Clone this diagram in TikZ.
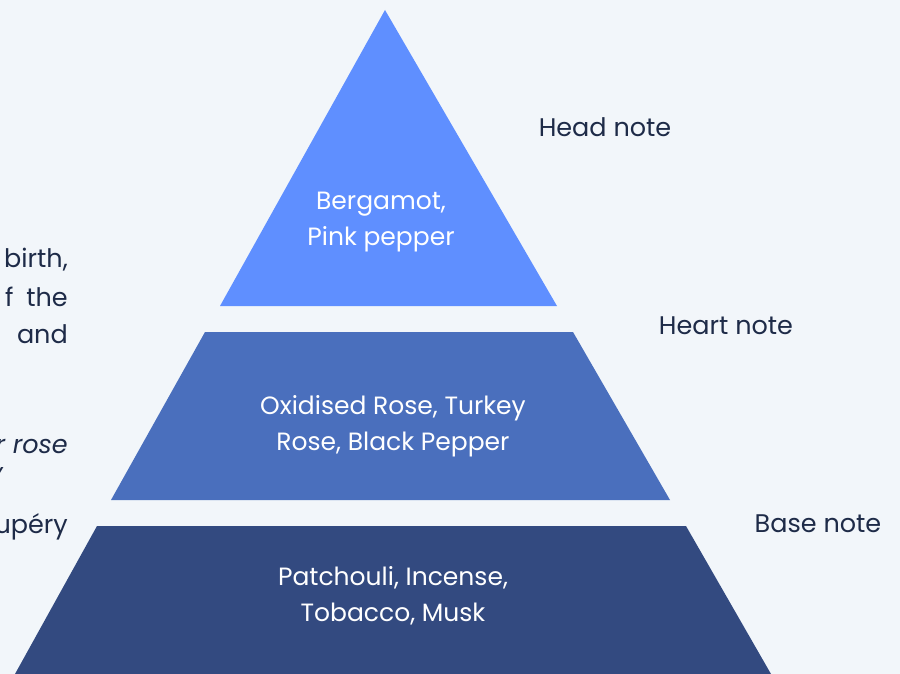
\documentclass[tikz,border=0pt]{standalone}
\usepackage{fontspec}
\setmainfont{Poppins}
\definecolor{bgc}{HTML}{F2F6FA}
\definecolor{topc}{HTML}{5F8FFF}
\definecolor{midc}{HTML}{4A6FBD}
\definecolor{botc}{HTML}{334A80}
\definecolor{inkc}{HTML}{1E2B48}
\begin{document}
\begin{tikzpicture}[x=1pt,y=-1pt,
  inner text/.style={text=white,font=\fontsize{25}{36}\selectfont,align=center,inner sep=0pt},
  note/.style={text=inkc,font=\fontsize{25.5}{28}\selectfont,inner sep=0pt},
  side/.style={text=inkc,font=\fontsize{25.5}{28}\selectfont,inner sep=0pt,anchor=east}]
\useasboundingbox (0,0) rectangle (900,674);
\fill[bgc] (0,0) rectangle (900,674);
% layers
\fill[topc] (385,10) -- (557,306) -- (220,306) -- cycle;
\fill[midc] (205,332) -- (573,332) -- (670,500) -- (111,500) -- cycle;
\fill[botc] (97,526) -- (686,526) -- (771,674) -- (15,674) -- cycle;
% labels inside
\node[inner text] (t1) at (381,222) {Bergamot,\\Pink pepper};
\node[inner text] (t2) at (393,426) {Oxidised Rose, Turkey\\Rose, Black Pepper};
\node[inner text] (t3) at (393,596) {Patchouli, Incense,\\Tobacco, Musk};
% side labels
\node[note] (n1) at (605,127) {Head note};
\node[note] (n2) at (726,326) {Heart note};
\node[note] (n3) at (818,524) {Base note};
% left text, cut by the picture's edge
\node[side] (l1) at (68,260) {birth,};
\node[side] (l2) at (68,297) {f\hspace{0.5em}the};
\node[side] (l3) at (68,334) {and};
\node[side] (l4) at (68,450) {\itshape your rose};
\node[side] (l5) at (3,478) {\itshape y};
\node[side] (l6) at (68,527) {upéry};
\end{tikzpicture}
\end{document}
